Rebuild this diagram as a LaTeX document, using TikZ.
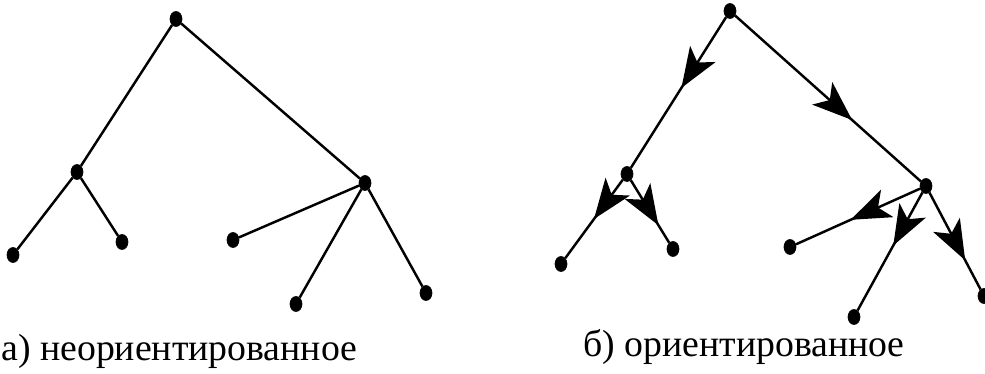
\documentclass[tikz,border=0pt]{standalone}
\usepackage{fontspec}
\setmainfont{Liberation Serif}
\usetikzlibrary{arrows.meta,decorations.markings,shapes.geometric}
\tikzset{
	%Trees style
	vertex/.style={
		draw,
		fill,
		ellipse,
		inner sep=0pt,
		minimum width=0.24cm,
		minimum height=0.3cm,
	},
	branch/.style={
		line width=1.4pt,
	},
	oriented/.style={
		branch,
		postaction={decorate},
		decoration={markings, mark=at position #1 with {\arrow{Stealth[length=0.8cm, width=0.6cm, inset=0.2cm]}}},
	},
	caption/.style={
		anchor=base west,
		inner sep=0pt,
		font=\fontsize{21.5}{25}\selectfont,
	}
}
\begin{document}
\begin{tikzpicture}[x=0.02cm, y=-0.02cm]
	\useasboundingbox (0,0) rectangle (985,374);

	% a) undirected tree
	\node(root) at (176,19) [vertex] {};
	\node(left) at (77,172) [vertex] {};
	\node(right) at (365,183) [vertex] {};
	\node(leafA) at (13,255) [vertex] {};
	\node(leafB) at (122,242) [vertex] {};
	\node(leafC) at (233,240) [vertex] {};
	\node(leafD) at (296,304) [vertex] {};
	\node(leafE) at (426,293) [vertex] {};
	\draw[branch] (root) -- (left);
	\draw[branch] (root) -- (right);
	\draw[branch] (left) -- (leafA);
	\draw[branch] (left) -- (leafB);
	\draw[branch] (right) -- (leafC);
	\draw[branch] (right) -- (leafD);
	\draw[branch] (right) -- (leafE);
	\node(captionA) at (1,361) [caption] {а) неориентированное};

	% b) directed tree
	\node(oroot) at (730,11) [vertex] {};
	\node(oleft) at (627,174) [vertex] {};
	\node(oright) at (926,186) [vertex] {};
	\node(oleafA) at (561,264) [vertex] {};
	\node(oleafB) at (673,249) [vertex] {};
	\node(oleafC) at (790,247) [vertex] {};
	\node(oleafD) at (854,317) [vertex] {};
	\node(oleafE) at (984,296) [vertex] {};
	\draw[oriented=0.47] (oroot) -- (oleft);
	\draw[oriented=0.63] (oroot) -- (oright);
	\draw[oriented=0.5] (oleft) -- (oleafA);
	\draw[oriented=0.72] (oleft) -- (oleafB);
	\draw[oriented=0.56] (oright) -- (oleafC);
	\draw[oriented=0.45] (oright) -- (oleafD);
	\draw[oriented=0.7] (oright) -- (oleafE);
	\node(captionB) at (583,357) [caption] {б) ориентированное};
\end{tikzpicture}
\end{document}
